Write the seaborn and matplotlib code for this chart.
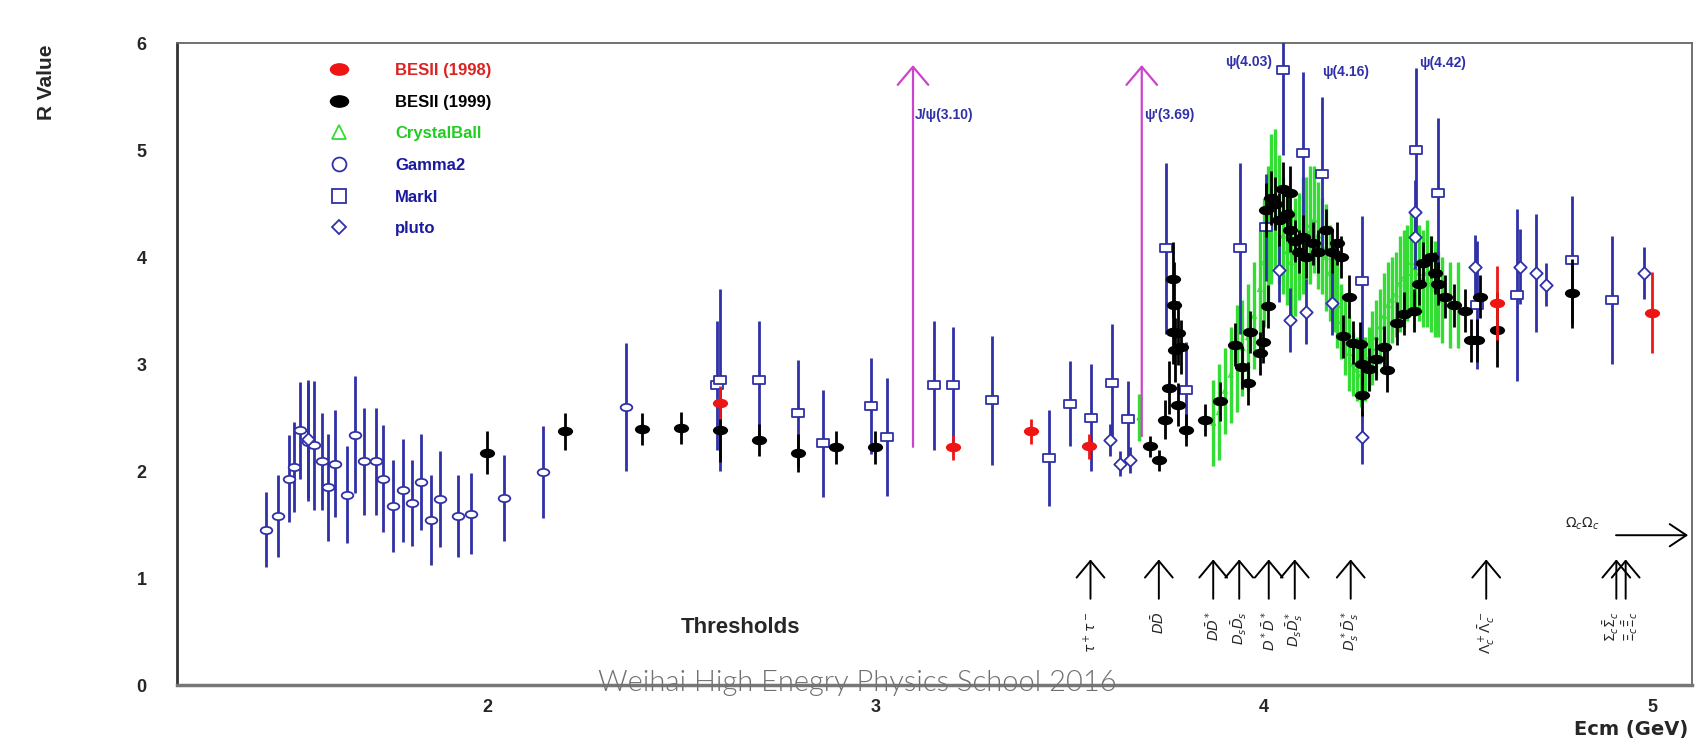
import matplotlib
matplotlib.use("Agg")
import matplotlib.pyplot as plt
from matplotlib.path import Path
from matplotlib.markers import MarkerStyle
from matplotlib.transforms import Affine2D
from matplotlib.lines import Line2D
from matplotlib.ticker import MultipleLocator
import seaborn as sns
import pandas as pd

# ---- data (Ecm in GeV, R, error on R) ----
besii98_e = [2.60, 3.20, 3.40, 3.55, 4.60, 5.00]
besii98_r = [2.64, 2.22, 2.37, 2.23, 3.57, 3.48]
besii98_err = [0.15, 0.12, 0.12, 0.12, 0.35, 0.38]

besii99_e = [2.00, 2.20, 2.40, 2.50, 2.60, 2.70, 2.80, 2.90, 3.00,
             3.707, 3.730, 3.745, 3.757, 3.766, 3.770, 3.766, 3.780, 3.772, 3.788,
             3.780, 3.801, 3.850, 3.887, 3.925, 3.943, 3.960, 3.964, 3.990, 3.998,
             4.011, 4.007, 4.020, 4.030, 4.040, 4.050, 4.060, 4.067, 4.067, 4.080,
             4.090, 4.100, 4.110, 4.127, 4.140, 4.160, 4.175, 4.188, 4.200, 4.220,
             4.205, 4.230, 4.248, 4.252, 4.252, 4.270, 4.290, 4.310, 4.317, 4.343,
             4.360, 4.386, 4.400, 4.410, 4.430, 4.440, 4.450, 4.467, 4.490, 4.518,
             4.535, 4.550, 4.556, 4.600, 4.795]
besii99_r = [2.17, 2.37, 2.39, 2.40, 2.38, 2.29, 2.17, 2.22, 2.22,
             2.23, 2.10, 2.48, 2.78, 3.79, 3.55, 3.30, 3.29, 3.13, 3.16,
             2.62, 2.38, 2.48, 2.65, 3.18, 2.97, 2.82, 3.30, 3.10, 3.21,
             3.54, 4.44, 4.55, 4.50, 4.35, 4.64, 4.40, 4.60, 4.25, 4.15,
             4.05, 4.19, 4.00, 4.13, 4.05, 4.25, 4.05, 4.13, 4.00, 3.63,
             3.26, 3.20, 3.19, 3.00, 2.71, 2.95, 3.05, 3.16, 2.94, 3.38,
             3.47, 3.50, 3.75, 3.94, 4.00, 3.85, 3.75, 3.63, 3.55, 3.50,
             3.22, 3.22, 3.63, 3.32, 3.66]
besii99_err = [0.20, 0.17, 0.15, 0.15, 0.30, 0.15, 0.18, 0.15, 0.15,
               0.10, 0.10, 0.18, 0.25, 0.35, 0.40, 0.30, 0.30, 0.30, 0.25,
               0.20, 0.15, 0.15, 0.18, 0.20, 0.20, 0.20, 0.20, 0.20, 0.20,
               0.20, 0.25, 0.25, 0.25, 0.25, 0.25, 0.25, 0.25, 0.20, 0.20,
               0.20, 0.20, 0.20, 0.20, 0.20, 0.20, 0.20, 0.20, 0.20, 0.20,
               0.20, 0.20, 0.20, 0.20, 0.20, 0.20, 0.20, 0.20, 0.20, 0.20,
               0.20, 0.20, 0.20, 0.20, 0.20, 0.20, 0.20, 0.20, 0.20, 0.20,
               0.20, 0.20, 0.20, 0.35, 0.32]

cball_e = [3.68, 3.87, 3.885, 3.90, 3.915, 3.93, 3.945, 3.96, 3.975, 3.99,
           4.00, 4.01, 4.02, 4.03, 4.04, 4.05, 4.06, 4.07, 4.08, 4.09,
           4.10, 4.11, 4.12, 4.13, 4.14, 4.15, 4.16, 4.17, 4.18, 4.19,
           4.20, 4.21, 4.22, 4.23, 4.24, 4.25, 4.26, 4.27, 4.28, 4.29,
           4.30, 4.31, 4.32, 4.33, 4.34, 4.35, 4.36, 4.37, 4.38, 4.39,
           4.40, 4.41, 4.42, 4.43, 4.44, 4.45, 4.46, 4.48, 4.50]
cball_r = [2.50, 2.45, 2.55, 2.75, 2.90, 3.05, 3.15, 3.25, 3.45, 3.70,
           3.95, 4.20, 4.45, 4.55, 4.35, 4.20, 4.05, 3.95, 4.00, 4.10,
           4.20, 4.25, 4.30, 4.35, 4.20, 4.10, 4.00, 3.85, 3.70, 3.55,
           3.40, 3.25, 3.10, 3.00, 2.95, 2.90, 2.95, 3.05, 3.15, 3.25,
           3.35, 3.45, 3.55, 3.60, 3.65, 3.75, 3.80, 3.85, 3.95, 3.90,
           3.85, 3.80, 3.85, 3.75, 3.70, 3.65, 3.60, 3.55, 3.55]
cball_err = [0.22, 0.40, 0.45, 0.40, 0.45, 0.50, 0.45, 0.50, 0.50, 0.55,
             0.60, 0.65, 0.70, 0.65, 0.60, 0.55, 0.50, 0.50, 0.55, 0.50,
             0.55, 0.50, 0.55, 0.50, 0.50, 0.45, 0.50, 0.45, 0.40, 0.40,
             0.35, 0.35, 0.35, 0.30, 0.30, 0.30, 0.30, 0.30, 0.35, 0.35,
             0.35, 0.40, 0.40, 0.40, 0.40, 0.45, 0.45, 0.45, 0.45, 0.45,
             0.45, 0.45, 0.50, 0.45, 0.45, 0.40, 0.40, 0.40, 0.40]

gamma2_e = [1.432, 1.462, 1.490, 1.504, 1.518, 1.538, 1.555, 1.575, 1.590, 1.609,
            1.639, 1.660, 1.684, 1.713, 1.732, 1.758, 1.784, 1.806, 1.829, 1.855,
            1.880, 1.926, 1.958, 2.043, 2.143, 2.359]
gamma2_r = [1.45, 1.58, 1.93, 2.04, 2.38, 2.27, 2.24, 2.09, 1.85, 2.07,
            1.78, 2.34, 2.09, 2.09, 1.93, 1.67, 1.82, 1.70, 1.90, 1.54,
            1.74, 1.58, 1.60, 1.75, 1.99, 2.60]
gamma2_err = [0.35, 0.38, 0.41, 0.42, 0.45, 0.55, 0.60, 0.45, 0.50, 0.50,
              0.45, 0.55, 0.50, 0.50, 0.50, 0.43, 0.48, 0.40, 0.45, 0.42,
              0.45, 0.38, 0.38, 0.40, 0.43, 0.60]

markI_e = [2.593, 2.600, 2.700, 2.800, 2.865, 2.990, 3.030, 3.150, 3.200, 3.300,
           3.446, 3.500, 3.556, 3.610, 3.651, 3.749, 3.800, 3.940, 4.005, 4.049,
           4.100, 4.149, 4.252, 4.393, 4.448, 4.548, 4.651, 4.795, 4.898]
markI_r = [2.80, 2.85, 2.85, 2.54, 2.26, 2.61, 2.32, 2.80, 2.80, 2.66,
           2.12, 2.63, 2.50, 2.82, 2.49, 4.08, 2.76, 4.08, 4.28, 5.75,
           4.97, 4.78, 3.78, 5.00, 4.60, 3.55, 3.645, 3.97, 3.60]
markI_err = [0.60, 0.85, 0.55, 0.50, 0.50, 0.45, 0.55, 0.60, 0.55, 0.60,
             0.45, 0.40, 0.50, 0.55, 0.35, 0.80, 0.45, 0.80, 0.50, 0.80,
             0.76, 0.72, 0.60, 0.77, 0.70, 0.60, 0.80, 0.60, 0.60]

pluto_e = [1.540, 3.605, 3.630, 3.655, 4.040, 4.067, 4.110, 4.175, 4.252, 4.389,
           4.389, 4.543, 4.660, 4.700, 4.728, 4.980]
pluto_r = [2.30, 2.29, 2.07, 2.10, 3.88, 3.41, 3.49, 3.57, 2.32, 4.42,
           4.19, 3.91, 3.91, 3.85, 3.74, 3.85]
pluto_err = [0.55, 0.15, 0.12, 0.12, 0.30, 0.30, 0.30, 0.30, 0.25, 0.30,
             0.30, 0.30, 0.35, 0.55, 0.20, 0.24]

# resonances (magenta arrows) and peak labels
res_e = [3.097, 3.686]
res_base = [2.20, 2.30]
res_labels = ["J/\u03c8(3.10)", "\u03c8'(3.69)"]
peak_labels = ["\u03c8(4.03)", "\u03c8(4.16)", "\u03c8(4.42)"]
peak_e = [3.90, 4.15, 4.40]
peak_r = [5.82, 5.73, 5.81]

# open-channel thresholds
thr_e = [3.554, 3.730, 3.870, 3.937, 4.013, 4.080, 4.224, 4.573, 4.908, 4.932]
thr_shift = [0, 0, 0, 0, 0, 0, 0, 0, -0.012, 0.012]
thr_labels = [r"$\tau^+\tau^-$", r"$D\bar{D}$", r"$D\bar{D}^*$", r"$D_s\bar{D}_s$",
              r"$D^*\bar{D}^*$", r"$D_s\bar{D}_s^*$", r"$D_s^*\bar{D}_s^*$",
              r"$\Lambda_c^+\bar{\Lambda}_c^-$", r"$\Sigma_c\bar{\Sigma}_c$", r"$\Xi_c\bar{\Xi}_c$"]

RED = "#ee1515"
GREEN = "#33dd33"
BLUE = "#3030a8"
MAGENTA = "#cc44cc"

sns.set_style("white")
plt.rcParams["font.family"] = ["Liberation Sans", "DejaVu Sans"]

ellipse = MarkerStyle(Path.unit_circle().transformed(Affine2D().scale(1.6, 1.0)))
rect = MarkerStyle(Path([(-1.5, -1), (1.5, -1), (1.5, 1), (-1.5, 1), (-1.5, -1)], closed=True))

fig = plt.figure(figsize=(17.04, 7.42), dpi=100)
ax = fig.add_axes([0.1039, 0.0768, 0.8891, 0.8652])


def draw(e, r, err, ecol, lw, z, marker, s, face, edge, mlw):
    df = pd.DataFrame({"E": e, "R": r, "dR": err})
    ax.errorbar(df.E, df.R, yerr=df.dR, fmt="none", ecolor=ecol, elinewidth=lw,
                capsize=0, zorder=z)
    sns.scatterplot(data=df, x="E", y="R", marker=marker, s=s, color=face,
                    edgecolor=edge, linewidth=mlw, ax=ax, zorder=z + 0.5, legend=False)


draw(cball_e, cball_r, cball_err, GREEN, 2.4, 2, "^", 12, "none", GREEN, 0.8)
draw(gamma2_e, gamma2_r, gamma2_err, BLUE, 2.0, 3, ellipse, 70, "white", BLUE, 1.3)
draw(markI_e, markI_r, markI_err, BLUE, 2.0, 3, rect, 70, "white", BLUE, 1.3)
draw(pluto_e, pluto_r, pluto_err, BLUE, 2.0, 3, "D", 40, "white", BLUE, 1.3)
draw(besii99_e, besii99_r, besii99_err, "black", 2.0, 4, ellipse, 120, "black", "black", 0)
draw(besii98_e, besii98_r, besii98_err, RED, 2.0, 5, ellipse, 120, RED, RED, 0)

# resonance arrows
for e0, b0, lab in zip(res_e, res_base, res_labels):
    ax.annotate("", xy=(e0, 5.82), xytext=(e0, b0),
                arrowprops=dict(arrowstyle="->,head_length=0.65,head_width=0.55",
                                color=MAGENTA, lw=1.6, mutation_scale=20), zorder=6)
    ax.text(e0 + 0.005, 5.33, lab, color=BLUE, fontsize=10, fontweight="bold",
            ha="left", va="center", zorder=7)
for lab, e0, r0 in zip(peak_labels, peak_e, peak_r):
    ax.text(e0, r0, lab, color=BLUE, fontsize=10, fontweight="bold",
            ha="left", va="center", zorder=7)

# thresholds
for e0, dx, lab in zip(thr_e, thr_shift, thr_labels):
    ax.annotate("", xy=(e0, 1.20), xytext=(e0, 0.78),
                arrowprops=dict(arrowstyle="->,head_length=0.6,head_width=0.5",
                                color="black", lw=1.4, mutation_scale=20))
    ax.text(e0 + dx, 0.69, lab, rotation=90, fontsize=10, ha="center", va="top")
ax.text(2.50, 0.54, "Thresholds", fontsize=16, fontweight="bold", ha="left", va="center")
ax.annotate("", xy=(5.10, 1.40), xytext=(4.90, 1.40),
            arrowprops=dict(arrowstyle="->,head_length=0.6,head_width=0.4",
                            color="black", lw=1.4, mutation_scale=20))
ax.text(4.82, 1.51, r"$\Omega_c\Omega_c$", fontsize=10, ha="center", va="center")

# axes styling
ax.set_xlim(1.202, 5.103)
ax.set_ylim(0, 6)
ax.xaxis.set_major_locator(MultipleLocator(1))
ax.xaxis.set_minor_locator(MultipleLocator(0.05))
ax.yaxis.set_major_locator(MultipleLocator(1))
ax.yaxis.set_minor_locator(MultipleLocator(0.2))
ax.tick_params(axis="y", which="major", direction="in", length=12, width=1.4, pad=22,
               labelsize=13)
ax.tick_params(axis="y", which="minor", direction="in", length=6, width=1.4)
ax.tick_params(axis="x", which="major", direction="in", length=7, width=1.4, pad=10,
               labelsize=13)
ax.tick_params(axis="x", which="minor", direction="in", length=2.5, width=1.4)
for lab in ax.get_xticklabels() + ax.get_yticklabels():
    lab.set_fontweight("bold")
ax.spines["left"].set_linewidth(2.0)
ax.spines["left"].set_color("#333333")
ax.spines["bottom"].set_linewidth(2.5)
ax.spines["bottom"].set_color("#777777")
for side in ["top", "right"]:
    ax.spines[side].set_linewidth(1.3)
    ax.spines[side].set_color("#666666")
ax.set_xlabel("")
ax.set_ylabel("")

# legend
handles = [
    Line2D([], [], ls="none", marker=ellipse, ms=13, mfc=RED, mec=RED),
    Line2D([], [], ls="none", marker=ellipse, ms=13, mfc="black", mec="black"),
    Line2D([], [], ls="none", marker="^", ms=10, mfc="none", mec=GREEN, mew=1.3),
    Line2D([], [], ls="none", marker="o", ms=10, mfc="none", mec=BLUE, mew=1.3),
    Line2D([], [], ls="none", marker="s", ms=10, mfc="none", mec=BLUE, mew=1.3),
    Line2D([], [], ls="none", marker="D", ms=7, mfc="none", mec=BLUE, mew=1.3),
]
names = ["BESII (1998)", "BESII (1999)", "CrystalBall", "Gamma2", "MarkI", "pluto"]
text_cols = ["#dd2222", "black", "#22cc22", "#1a1aa0", "#1a1aa0", "#1a1aa0"]
leg = ax.legend(handles, names, loc="upper left", bbox_to_anchor=(0.0934, 0.982),
                frameon=False, borderpad=0, handlelength=1.5, handletextpad=2.6,
                labelspacing=1.0, prop={"weight": "bold", "size": 12})
for t, c in zip(leg.get_texts(), text_cols):
    t.set_color(c)

fig.text(0.027, 0.889, "R Value", rotation=90, fontsize=15, fontweight="bold",
         ha="center", va="center")
fig.text(0.9906, 0.017, "Ecm (GeV)", fontsize=14, fontweight="bold",
         family="DejaVu Sans", ha="right", va="center")
fig.text(0.503, 0.079, "Weihai High Enegry Physics School 2016", fontsize=21,
         family="Lato", fontweight=300, color="#707070", ha="center", va="center",
         zorder=20)

fig.savefig("out.png", dpi=100, facecolor="white")
